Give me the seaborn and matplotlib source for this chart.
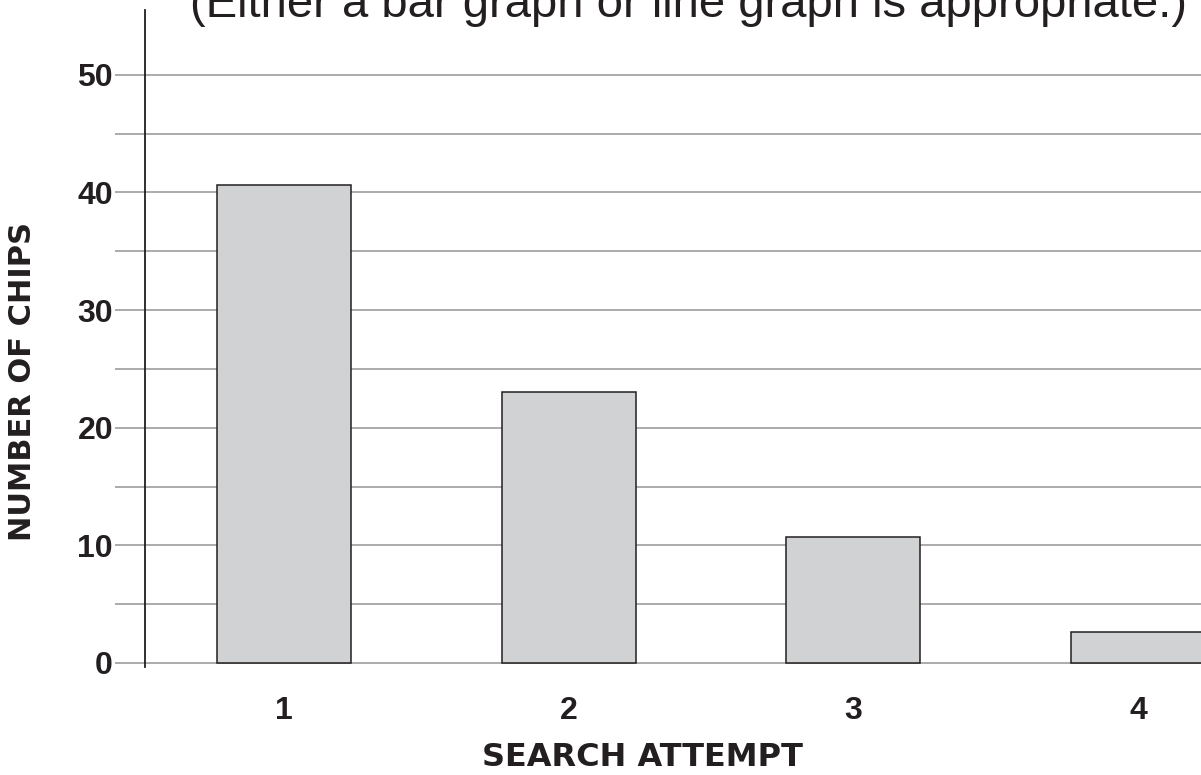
import matplotlib
matplotlib.use("Agg")
import matplotlib.pyplot as plt
from matplotlib.ticker import FixedLocator
import seaborn as sns

# Data
attempts = ["1", "2", "3", "4"]
chips = [40.6, 23.0, 10.7, 2.6]
major_ticks = [0, 10, 20, 30, 40, 50]
minor_ticks = [5, 15, 25, 35, 45]

title_text = "(Either a bar graph or line graph is appropriate.)"
x_label = "SEARCH ATTEMPT"
y_label = "NUMBER OF CHIPS"

sns.set_style("white")
plt.rcParams['font.family'] = ['Liberation Sans', 'DejaVu Sans']

ink = "#231f20"
grid_grey = "#ababab"

fig = plt.figure(figsize=(12.01, 7.75), dpi=100)
ax = fig.add_axes([145 / 1201, 1 - 667 / 775, 1 - 145 / 1201, (667 - 10) / 775])

sns.barplot(x=attempts, y=chips, color="#d1d2d4", saturation=1,
            edgecolor=ink, linewidth=1.1, width=0.47, ax=ax, zorder=3)

ax.set_xlim(-0.488, 3.221)
ax.set_ylim(-0.34, 55.5)

# gridlines at every 5
ax.yaxis.set_major_locator(FixedLocator(major_ticks))
ax.yaxis.set_minor_locator(FixedLocator(minor_ticks))
ax.grid(axis="y", which="both", color=grid_grey, linewidth=1.4)
ax.grid(axis="x", visible=False)
ax.set_axisbelow(True)

ax.tick_params(axis="y", which="both", left=True, length=21.5, width=1.4,
               color=grid_grey, pad=1.5)
ax.tick_params(axis="y", which="major", labelsize=23, labelcolor=ink)
ax.tick_params(axis="x", length=0, pad=21, labelsize=23, labelcolor=ink)
for lab in ax.get_xticklabels() + ax.get_yticklabels():
    lab.set_fontweight("bold")

for side in ["top", "right", "bottom"]:
    ax.spines[side].set_visible(False)
ax.spines["left"].set_color(ink)
ax.spines["left"].set_linewidth(1.3)
ax.spines["left"].set_zorder(4)

ax.set_xlabel(x_label, fontsize=23, fontweight="bold", color=ink, family="DejaVu Sans")
ax.xaxis.set_label_coords(0.4706, -0.1385)
ax.xaxis.label.set_va("center")
ax.set_ylabel(y_label, fontsize=22, fontweight="bold", color=ink, family="DejaVu Sans")
ax.yaxis.set_label_coords(-0.116, 0.435)
ax.yaxis.label.set_va("center")

# title sits at the top edge and is clipped, as in the source
fig.text(190 / 1201, 1 - 17 / 775, title_text, fontsize=34, color=ink,
         ha="left", va="baseline")

fig.savefig("out.png", dpi=100)
